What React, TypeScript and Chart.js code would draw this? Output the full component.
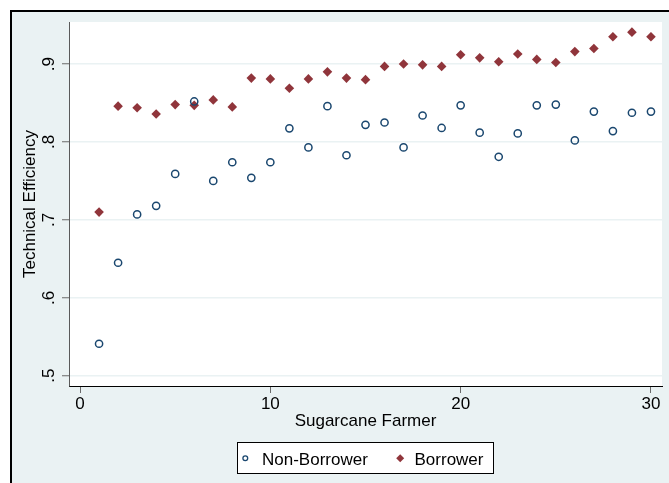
import React, { useEffect, useRef } from 'react';
import { Chart, registerables } from 'chart.js';

Chart.register(...registerables);

// ---- data ----
const farmers = [1, 2, 3, 4, 5, 6, 7, 8, 9, 10, 11, 12, 13, 14, 15, 16, 17, 18, 19, 20, 21, 22, 23, 24, 25, 26, 27, 28, 29, 30];
const nonBorrower = [0.541, 0.645, 0.707, 0.718, 0.759, 0.852, 0.750, 0.774, 0.754, 0.774, 0.8175, 0.793, 0.846, 0.783, 0.822, 0.825, 0.793, 0.834, 0.818, 0.847, 0.812, 0.781, 0.811, 0.847, 0.848, 0.802, 0.839, 0.814, 0.8375, 0.839];
const borrower = [0.710, 0.846, 0.844, 0.836, 0.848, 0.847, 0.854, 0.845, 0.882, 0.881, 0.869, 0.881, 0.890, 0.882, 0.880, 0.897, 0.900, 0.899, 0.897, 0.912, 0.908, 0.903, 0.913, 0.906, 0.902, 0.916, 0.920, 0.935, 0.941, 0.935];
const seriesLabels = ['Non-Borrower', 'Borrower'];
const xTicks = [0, 10, 20, 30];
const xTickLabels = ['0', '10', '20', '30'];
const yTicks = [0.5, 0.6, 0.7, 0.8, 0.9];
const yTickLabels = ['.5', '.6', '.7', '.8', '.9'];
const xTitle = 'Sugarcane Farmer';
const yTitle = 'Technical Efficiency';

const FONT = '"Liberation Sans", Arial, Helvetica, sans-serif';
const NAVY = '#1a476f';
const MAROON = '#90353b';
const BG = '#eaf2f3';

const framePlugin = {
  id: 'stataFrame',
  beforeDraw(chart: any) {
    const { ctx, width, height, chartArea: a } = chart;
    ctx.save();
    ctx.fillStyle = '#ffffff';
    ctx.fillRect(0, 0, width, height);
    ctx.fillStyle = BG;
    ctx.fillRect(12, 12, width - 12, height - 12);
    ctx.fillStyle = '#000000';
    ctx.fillRect(10, 10, 2, height - 10);
    ctx.fillRect(10, 10, width - 10, 2);
    ctx.fillStyle = '#ffffff';
    ctx.fillRect(a.left, a.top, a.right - a.left, a.bottom - a.top);
    ctx.restore();
  },
  afterDraw(chart: any) {
    const { ctx, chartArea: a } = chart;
    const ds = chart.data.datasets;
    ctx.save();
    ctx.font = `17px ${FONT}`;
    const w1 = ctx.measureText(ds[0].label).width;
    const w2 = ctx.measureText(ds[1].label).width;
    const total = 8.3 + 16.7 + w1 + 32.4 + 14.3 + w2 + 9.7;
    const cx = (a.left + a.right) / 2;
    const left = Math.round(cx - total / 2);
    const top = Math.round(a.bottom + 56);
    const h = 31;
    ctx.fillStyle = '#ffffff';
    ctx.fillRect(left, top, total, h);
    ctx.strokeStyle = '#000000';
    ctx.lineWidth = 1;
    ctx.strokeRect(left + 0.5, top + 0.5, Math.round(total), h);
    const my = top + 16.3;
    // circle marker
    ctx.beginPath();
    ctx.arc(left + 8.3, my, 2.4, 0, Math.PI * 2);
    ctx.strokeStyle = ds[0].borderColor;
    ctx.lineWidth = 1.3;
    ctx.stroke();
    ctx.fillStyle = '#000000';
    ctx.textBaseline = 'alphabetic';
    ctx.textAlign = 'left';
    const t1 = left + 25;
    ctx.fillText(ds[0].label, t1, top + 23);
    // diamond marker
    const dx = t1 + w1 + 32.4;
    ctx.beginPath();
    ctx.moveTo(dx - 4, my);
    ctx.lineTo(dx, my - 4);
    ctx.lineTo(dx + 4, my);
    ctx.lineTo(dx, my + 4);
    ctx.closePath();
    ctx.fillStyle = ds[1].backgroundColor;
    ctx.fill();
    ctx.fillStyle = '#000000';
    ctx.fillText(ds[1].label, dx + 14.3, top + 23);
    ctx.restore();
  },
};

export default function App() {
  const ref = useRef<HTMLCanvasElement | null>(null);
  useEffect(() => {
    if (!ref.current) return;
    Chart.defaults.font.family = FONT;
    const chart = new Chart(ref.current, {
      type: 'scatter',
      data: {
        datasets: [
          {
            label: seriesLabels[0],
            data: farmers.map((f, i) => ({ x: f, y: nonBorrower[i] })),
            pointStyle: 'circle',
            pointRadius: 3.6,
            pointBorderWidth: 1.5,
            borderColor: NAVY,
            backgroundColor: 'rgba(0,0,0,0)',
            pointBackgroundColor: 'rgba(0,0,0,0)',
            pointBorderColor: NAVY,
          },
          {
            label: seriesLabels[1],
            data: farmers.map((f, i) => ({ x: f, y: borrower[i] })),
            pointStyle: 'rectRot',
            pointRadius: 4.8,
            pointBorderWidth: 0,
            borderColor: MAROON,
            backgroundColor: MAROON,
            pointBackgroundColor: MAROON,
          },
        ],
      },
      options: {
        animation: false,
        responsive: false,
        maintainAspectRatio: false,
        events: [],
        layout: { padding: { left: 12, top: 22, right: 7, bottom: 47 } },
        plugins: { legend: { display: false }, tooltip: { enabled: false } },
        scales: {
          x: {
            type: 'linear',
            min: -0.58,
            max: 30.58,
            afterBuildTicks: (s: any) => { s.ticks = xTicks.map((v) => ({ value: v })); },
            afterFit: (s: any) => { s.height = 50; },
            ticks: {
              callback: (_v: any, i: number) => xTickLabels[i],
              color: '#000',
              font: { size: 17 },
              padding: 1.5,
              maxRotation: 0,
              autoSkip: false,
            },
            grid: { drawOnChartArea: false, drawTicks: true, tickLength: 7, tickColor: '#6a6a6a', tickWidth: 1 },
            border: { display: true, color: '#000', width: 1 },
            title: { display: true, text: xTitle, color: '#000', font: { size: 17 }, padding: { top: 0, bottom: 4 } },
          },
          y: {
            type: 'linear',
            min: 0.4868,
            max: 0.954,
            afterBuildTicks: (s: any) => { s.ticks = yTicks.map((v) => ({ value: v })); },
            afterFit: (s: any) => { s.width = 57; },
            ticks: {
              callback: (_v: any, i: number) => yTickLabels[i],
              color: '#000',
              font: { size: 17 },
              padding: 6,
              minRotation: 90,
              maxRotation: 90,
              crossAlign: 'center',
              autoSkip: false,
            },
            grid: { color: BG, lineWidth: 1.5, drawTicks: true, tickLength: 7, tickColor: '#6a6a6a', tickWidth: 1 },
            border: { display: true, color: '#5a5a5a', width: 1 },
            title: { display: true, text: yTitle, color: '#000', font: { size: 17 }, padding: { top: 7.8, bottom: 0 } },
          },
        },
      },
      plugins: [framePlugin],
    } as any);
    return () => chart.destroy();
  }, []);
  return (
    <div style={{ position: 'absolute', left: 0, top: 0, width: 669, height: 483 }}>
      <canvas ref={ref} width={669} height={483} style={{ display: 'block' }} />
    </div>
  );
}
